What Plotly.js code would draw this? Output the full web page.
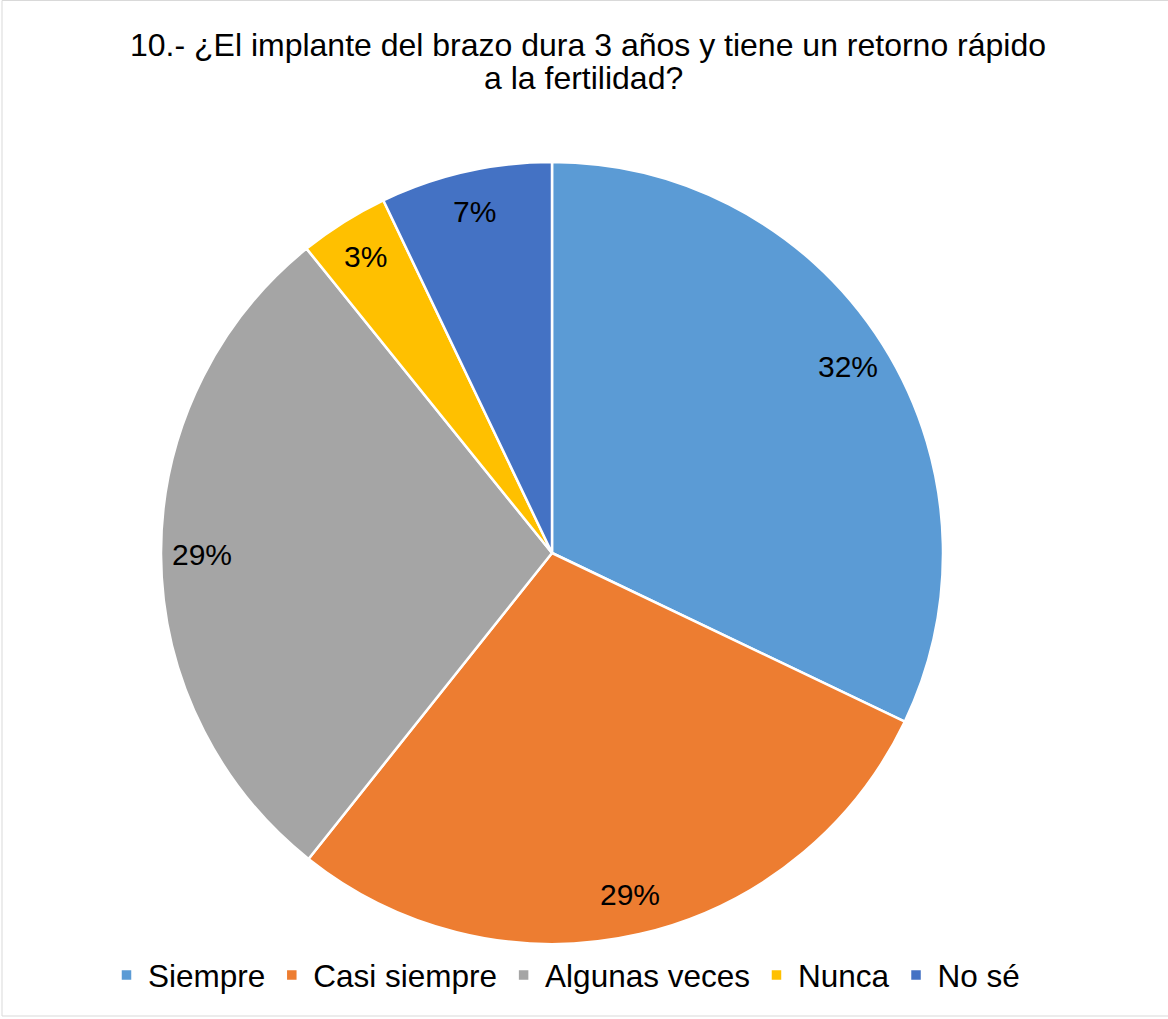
<!DOCTYPE html>
<html>
<head>
<meta charset="utf-8">
<script src="https://cdn.plot.ly/plotly-3.0.1.min.js"></script>
<style>
  html, body { margin: 0; padding: 0; background: #ffffff; }
  #chart { width: 1168px; height: 1019px; }
</style>
</head>
<body>
<div id="chart"></div>
<script>
// ---- data ----
const categories = ['Siempre', 'Casi siempre', 'Algunas veces', 'Nunca', 'No sé'];
const values = [32.1, 28.6, 28.5, 3.7, 7.1];
const pctLabels = ['32%', '29%', '29%', '3%', '7%'];
const colors = ['#5B9BD5', '#ED7D31', '#A5A5A5', '#FFC000', '#4472C4'];
const titleLines = ['10.- ¿El implante del brazo dura 3 años y tiene un retorno rápido', 'a la fertilidad?'];

// ---- layout geometry ----
const W = 1168, H = 1019;
const cx = 552, cy = 553, R = 391;
const domX = [(cx - R) / W, (cx + R) / W];
const domY = [1 - (cy + R) / H, 1 - (cy - R) / H];
const FONT = 'Arial, "Liberation Sans", sans-serif';

// label positions derived from the values (mid-angle of each slice)
const total = values.reduce((a, b) => a + b, 0);
const annotations = [];
let cum = 0;
values.forEach((v, i) => {
  const mid = (cum + v / 2) / total * 2 * Math.PI;
  cum += v;
  const rr = 0.895 * R;
  const px = cx + rr * Math.sin(mid);
  const py = cy - rr * Math.cos(mid);
  annotations.push({
    text: pctLabels[i], x: px / W, y: 1 - py / H,
    xref: 'paper', yref: 'paper', xanchor: 'center', yanchor: 'middle',
    showarrow: false, font: { family: FONT, size: 30, color: '#000000' }
  });
});

// second title line (tighter line spacing than Plotly's <br>)
annotations.push({
  text: titleLines[1], x: 583 / W, y: 1 - 78 / H,
  xref: 'paper', yref: 'paper', xanchor: 'center', yanchor: 'middle',
  showarrow: false, font: { family: FONT, size: 32, color: '#000000' }
});

const trace = {
  type: 'pie',
  labels: categories,
  values: values,
  sort: false,
  direction: 'clockwise',
  rotation: 0,
  textinfo: 'none',
  hoverinfo: 'label+percent',
  marker: { colors: colors, line: { color: '#ffffff', width: 2.5 } },
  domain: { x: domX, y: domY }
};

const layout = {
  width: W, height: H,
  margin: { l: 0, r: 0, t: 0, b: 0 },
  paper_bgcolor: '#ffffff',
  font: { family: FONT, color: '#000000' },
  title: {
    text: titleLines[0],
    x: 588 / W, xref: 'container', xanchor: 'center',
    y: 1 - 45 / H, yref: 'container', yanchor: 'middle',
    font: { family: FONT, size: 32, color: '#000000' }
  },
  showlegend: true,
  legend: {
    orientation: 'h',
    x: 565 / W, xanchor: 'center',
    y: 1 - 975 / H, yanchor: 'middle',
    itemwidth: 33,
    font: { family: FONT, size: 31.5, color: '#000000' },
    traceorder: 'normal'
  },
  annotations: annotations,
  shapes: [{
    type: 'rect', xref: 'paper', yref: 'paper',
    x0: 2 / W, x1: 1.01, y0: 1 - 1016 / H, y1: 1 - 0.5 / H,
    line: { color: '#D9D9D9', width: 1 }, fillcolor: 'rgba(0,0,0,0)'
  }]
};

Plotly.newPlot('chart', [trace], layout, { displayModeBar: false, staticPlot: true });
</script>
</body>
</html>
